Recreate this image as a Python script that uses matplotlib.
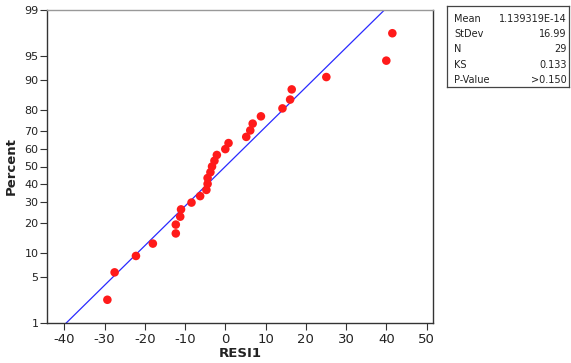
import numpy as np
import matplotlib
matplotlib.use("Agg")
import matplotlib.pyplot as plt
from statistics import NormalDist

plt.rcParams['font.family'] = 'DejaVu Sans'
plt.rcParams['axes.unicode_minus'] = False

# residuals (sorted)
resi = [-29.3, -27.5, -22.2, -18.0, -12.3, -12.3, -11.2, -11.0, -8.4, -6.25,
        -4.7, -4.4, -4.4, -3.7, -3.3, -2.7, -2.1, 0.0, 0.8, 5.2,
        6.2, 6.8, 8.85, 14.2, 16.1, 16.5, 25.1, 40.0, 41.5]
# plotting positions (percent)
pct = [2.38, 5.78, 9.18, 12.59, 15.99, 19.39, 22.79, 26.19, 29.59, 32.99,
       36.39, 39.80, 43.20, 46.60, 50.00, 53.40, 56.80, 60.20, 63.61, 67.01,
       70.41, 73.81, 77.21, 80.61, 84.01, 87.41, 90.82, 94.22, 97.62]

mean = 1.139319e-14
sd = 16.99
line_pct = [1, 99]

yticks = [1, 5, 10, 20, 30, 40, 50, 60, 70, 80, 90, 95, 99]
xticks = [-40, -30, -20, -10, 0, 10, 20, 30, 40, 50]

stat_names = ["Mean", "StDev", "N", "KS", "P-Value"]
stat_vals = ["1.139319E-14", "16.99", "29", "0.133", ">0.150"]

nd = NormalDist()
def fwd(p):
    p = np.clip(np.asarray(p, float) / 100, 1e-6, 1 - 1e-6)
    return np.vectorize(nd.inv_cdf, otypes=[float])(p)
def inv(z):
    return np.vectorize(nd.cdf, otypes=[float])(np.asarray(z, float)) * 100

fig = plt.figure(figsize=(5.71, 3.63), dpi=100)
ax = fig.add_axes([47/571, 1 - 323/363, 386/571, 313/363])
ax.set_yscale('function', functions=(fwd, inv))

line_x = [mean + sd * nd.inv_cdf(p / 100) for p in line_pct]
ax.plot(line_x, line_pct, color='#2a2aff', lw=0.9, zorder=2)
ax.scatter(resi, pct, s=38, color='#ff1a1a', edgecolors='none', zorder=3)

ax.set_xlim(-44.3, 51.6)
ax.set_ylim(1, 99)
ax.set_yticks(yticks)
ax.set_yticklabels([str(t) for t in yticks])
ax.yaxis.set_minor_locator(matplotlib.ticker.NullLocator())
ax.set_xticks(xticks)
ax.tick_params(axis='y', labelsize=8, length=5, width=0.8, color='#333333',
               labelcolor='#222222', pad=1)
ax.tick_params(axis='x', labelsize=9.5, length=5, width=0.8, color='#333333',
               labelcolor='#222222', pad=2)
for s in ['left', 'bottom', 'right']:
    ax.spines[s].set_color('#333333')
    ax.spines[s].set_linewidth(1.0)
ax.spines['top'].set_color('#999999')
ax.spines['top'].set_linewidth(1.0)

ax.set_xlabel('RESI1', fontsize=9.5, fontweight='bold', labelpad=1, color='#222222')
ax.set_ylabel('Percent', fontsize=9.5, fontweight='bold', labelpad=5, color='#222222')

# stats box
bx = fig.add_axes([447/571, 1 - 87/363, 122/571, 81/363])
bx.set_xticks([])
bx.set_yticks([])
bx.set_xlim(0, 1)
bx.set_ylim(0, 5)
for s in bx.spines.values():
    s.set_color('#444444')
    s.set_linewidth(0.9)
for i, (n, v) in enumerate(zip(stat_names, stat_vals)):
    yy = 4.2 - i * 0.94
    bx.text(0.06, yy, n, fontsize=7, ha='left', va='center', color='#222222')
    bx.text(0.98, yy, v, fontsize=7, ha='right', va='center', color='#222222')

fig.savefig('out.png', dpi=100)
